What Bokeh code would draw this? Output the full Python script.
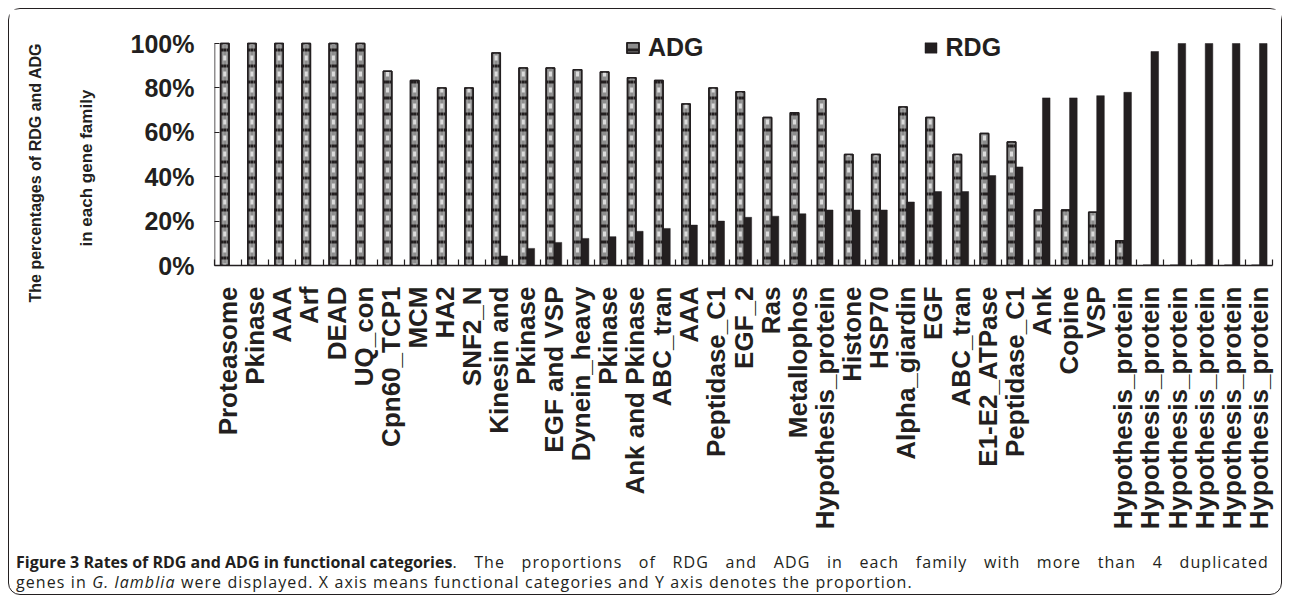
import math
from bokeh.plotting import figure
from bokeh.models import (ColumnDataSource, Range1d, FixedTicker, PrintfTickFormatter,
                          Legend, LegendItem, Div, Title)
from bokeh.layouts import column
from bokeh.embed import file_html
from bokeh.resources import INLINE

categories = ["Proteasome", "Pkinase", "AAA", "Arf", "DEAD", "UQ_con", "Cpn60_TCP1", "MCM",
              "HA2", "SNF2_N", "Kinesin and", "Pkinase", "EGF and VSP", "Dynein_heavy",
              "Pkinase", "Ank and Pkinase", "ABC_tran", "AAA", "Peptidase_C1", "EGF_2", "Ras",
              "Metallophos", "Hypothesis_protein", "Histone", "HSP70", "Alpha_giardin", "EGF",
              "ABC_tran", "E1-E2_ATPase", "Peptidase_C1", "Ank", "Copine", "VSP",
              "Hypothesis_protein", "Hypothesis_protein", "Hypothesis_protein",
              "Hypothesis_protein", "Hypothesis_protein", "Hypothesis_protein"]
adg = [100, 100, 100, 100, 100, 100, 87.5, 83.3, 80, 80, 95.7, 89.0, 89.0, 88.2, 87.2, 84.6,
       83.3, 72.7, 80, 78.3, 66.7, 68.8, 75, 50, 50, 71.4, 66.7, 50, 59.5, 55.6, 25, 25, 24,
       11.1, 0, 0, 0, 0, 0]
rdg = [0, 0, 0, 0, 0, 0, 0, 0, 0, 0, 4.3, 7.7, 10.4, 12.2, 13.0, 15.4, 16.7, 18.2, 20, 21.7,
       22.2, 23.3, 25, 25, 25, 28.6, 33.3, 33.3, 40.5, 44.4, 75.5, 75.5, 76.5, 78.0, 96.4,
       100, 100, 100, 100]
y_ticks = [0, 20, 40, 60, 80, 100]
y_title = ["The percentages of RDG and ADG", "in each gene family"]

INK = "#231f20"
GRAY = "#8d8d8d"
LIGHT = "#dcdcdc"
FONT = "Liberation Sans"

n = len(categories)
xs = list(range(1, n + 1))
src = ColumnDataSource(dict(x=xs, adg=adg, rdg=rdg,
                            xa=[x - 0.12 for x in xs], xr=[x + 0.16 for x in xs]))

# frame is 12px taller than the 0-100% axis so that the legend can sit at its top
AX_H, HEAD = 222, 12
y_top = max(y_ticks) * (AX_H + HEAD) / AX_H
x0 = 0.5

p = figure(width=1272, height=532, x_range=Range1d(x0, n + 0.5), y_range=Range1d(0, y_top),
           output_backend="svg", toolbar_location=None,
           min_border_left=205, min_border_right=9, min_border_top=34 - HEAD,
           min_border_bottom=276)
p.xgrid.visible = False
p.ygrid.visible = False
p.outline_line_color = None
p.background_fill_color = "white"
p.border_fill_color = "white"

# ADG bars: gray with black bands and light centre patches
bw = 0.31
r_adg = p.vbar(x="xa", top="adg", bottom=0, width=bw, source=src, fill_color=GRAY,
               line_color=INK, line_width=1.5, hatch_pattern="-", hatch_color=INK,
               hatch_weight=3, hatch_scale=16)
p.vbar(x="xa", top="adg", bottom=0, width=bw * 0.38, source=src, fill_color=LIGHT,
       line_color=None, hatch_pattern="-", hatch_color=GRAY, hatch_weight=11, hatch_scale=16)
p.vbar(x="xa", top="adg", bottom=0, width=bw * 0.38, source=src, fill_alpha=0,
       line_color=None, hatch_pattern="-", hatch_color=INK, hatch_weight=3, hatch_scale=16)
r_adg_line = p.vbar(x="xa", top="adg", bottom=0, width=bw, source=src, fill_alpha=0,
                    line_color=INK, line_width=1.5)
# RDG bars: solid black
r_rdg = p.vbar(x="xr", top="rdg", bottom=0, width=0.28, source=src, fill_color=INK,
               line_color=INK, line_width=0.5)

# y axis line only from 0% to 100%
p.segment(x0=[x0], y0=[min(y_ticks)], x1=[x0], y1=[max(y_ticks)], line_color=INK,
          line_width=1.5)

# x axis
xa = p.xaxis[0]
xa.ticker = FixedTicker(ticks=xs, minor_ticks=[x + 0.5 for x in range(0, n + 1)])
xa.major_label_overrides = {i + 1: c for i, c in enumerate(categories)}
xa.major_label_orientation = math.pi / 2
xa.major_tick_line_color = None
xa.major_tick_in = 0
xa.major_tick_out = 0
xa.minor_tick_in = 6
xa.minor_tick_out = 0
xa.minor_tick_line_color = INK
xa.minor_tick_line_width = 1.2
xa.axis_line_color = INK
xa.axis_line_width = 1.5
xa.major_label_standoff = 21
xa.major_label_text_font = FONT
xa.major_label_text_font_style = "bold"
xa.major_label_text_font_size = "26px"
xa.major_label_text_color = INK

# y axis
ya = p.yaxis[0]
ya.ticker = FixedTicker(ticks=y_ticks)
ya.formatter = PrintfTickFormatter(format="%d%%")
ya.minor_tick_line_color = None
ya.major_tick_in = 5
ya.major_tick_out = 0
ya.major_tick_line_color = INK
ya.major_tick_line_width = 1.2
ya.axis_line_color = None
ya.major_label_standoff = 20
ya.major_label_text_font = FONT
ya.major_label_text_font_style = "bold"
ya.major_label_text_font_size = "25px"
ya.major_label_text_color = INK

# two-line y title, as left-side titles (first added sits next to the axis)
for text, off, so, fs in ((y_title[1], 19, 63, "17px"), (y_title[0], -37, 0, "16px")):
    p.add_layout(Title(text=text, align="left", offset=off, standoff=so, text_font=FONT,
                       text_font_style="bold", text_font_size=fs, text_color=INK),
                 "left")

legend = Legend(items=[LegendItem(label="ADG", renderers=[r_adg, r_adg_line]),
                       LegendItem(label="RDG", renderers=[r_rdg])],
                location=(411, 203), orientation="horizontal", spacing=219, padding=0,
                margin=0, border_line_color=None, background_fill_alpha=0,
                glyph_width=15, glyph_height=13, label_standoff=8, label_height=30,
                label_text_font=FONT, label_text_font_style="bold",
                label_text_font_size="25px", label_text_color=INK)
p.add_layout(legend, "center")

caption_html = (
    '<div style="font-family:\'Open Sans\'; font-size:16px; line-height:20px; color:#231f20;'
    ' letter-spacing:1.1px; padding:11px 12px 0 7px; width:1253px;">'
    '<div style="display:flex; white-space:nowrap; width:1253px;">'
    '<b style="letter-spacing:0px;">Figure 3 Rates of RDG and ADG in functional categories</b>'
    '<span style="display:block; flex:1; white-space:normal; text-align:justify;'
    ' text-align-last:justify;">'
    '. The proportions of RDG and ADG in each family with more than 4 duplicated</span></div>'
    '<div>genes in <i>G. lamblia</i> were displayed. X axis means functional categories and '
    'Y axis denotes the proportion.</div></div>'
)
caption = Div(text=caption_html, width=1272, height=53, margin=(0, 0, 0, 0))

layout = column(p, caption, styles={"border": "1.5px solid #231f20", "border-radius": "12px",
                                    "background-color": "white", "margin-left": "8px",
                                    "margin-top": "8px"})

open("out.html", "w").write(file_html(layout, INLINE))
